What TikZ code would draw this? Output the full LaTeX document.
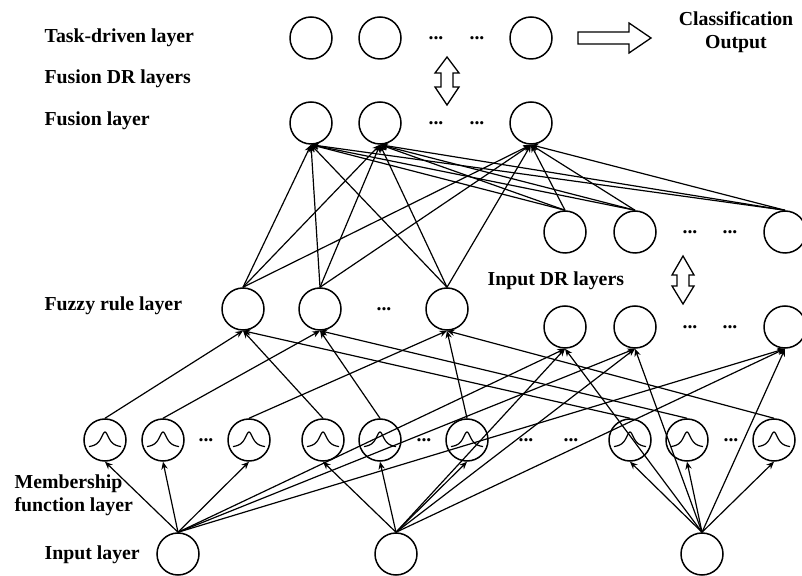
\documentclass[tikz,border=0pt]{standalone}
\usepackage{fontspec}
\setmainfont{Liberation Serif}
\usetikzlibrary{arrows.meta}

\begin{document}
\begin{tikzpicture}[x=0.5pt, y=-0.5pt, line width=0.6pt, >={Stealth[length=3.8pt,width=3.2pt]},
    main/.style = {draw, circle, line width=0.75pt, minimum size=21pt, inner sep=0pt},
    mf/.style = {main, path picture={\draw[line width=0.6pt, shift={(path picture bounding box.center)}] plot[domain=-8:8, samples=41, smooth] ({\x*1pt}, {(8/(1+(\x/2.5)*(\x/2.5))-4)*1pt});}},
    lbl/.style = {font=\bfseries\fontsize{9.9}{11.5}\selectfont, inner sep=0pt, anchor=west},
    dots/.style = {font=\bfseries\fontsize{9.9}{11.5}\selectfont, inner sep=0pt},
    bigarrow/.style = {draw, line width=0.65pt, fill=white}]
                \useasboundingbox (0,0) rectangle (802,576);

                % layer names
                \node[lbl] (ltask) at (44,38) {Task-driven layer};
                \node[lbl] (lfdr) at (44,79) {Fusion DR layers};
                \node[lbl] (lfus) at (44,121) {Fusion layer};
                \node[lbl] (lfuz) at (44,306) {Fuzzy rule layer};
                \node[lbl, align=left] (lmf) at (14,495) {Membership\\function layer};
                \node[lbl] (lin) at (44,555) {Input layer};
                \node[lbl] (lidr) at (487,281) {Input DR layers};
                \node[lbl, anchor=center, align=center] (lout) at (736,32) {Classification\\Output};

                % task-driven layer
                \node[main] (t1) at (311,38) {};
                \node[main] (t2) at (380,38) {};
                \node[dots] (td1) at (436,38) {...};
                \node[dots] (td2) at (477,38) {...};
                \node[main] (t3) at (531,38) {};
                \draw[bigarrow] (578,32) -- (629,32) -- (629,23) -- (651,38) -- (629,53) -- (629,44) -- (578,44) -- cycle;
                \draw[bigarrow] (447,57) -- (459,73) -- (453,73) -- (453,87) -- (459,87) -- (447,105) -- (435,87) -- (441,87) -- (441,73) -- (435,73) -- cycle;

                % fusion layer
                \node[main] (f1) at (311,123) {};
                \node[main] (f2) at (380,123) {};
                \node[dots] (fd1) at (436,123) {...};
                \node[dots] (fd2) at (477,123) {...};
                \node[main] (f3) at (531,123) {};

                % input DR layers
                \node[main] (u1) at (565,232) {};
                \node[main] (u2) at (635,232) {};
                \node[dots] (ud1) at (690,232) {...};
                \node[dots] (ud2) at (730,232) {...};
                \node[main] (u3) at (785,232) {};
                \draw[bigarrow] (683,256) -- (694,275) -- (689,275) -- (689,286) -- (694,286) -- (683,304) -- (672,286) -- (677,286) -- (677,275) -- (672,275) -- cycle;
                \node[main] (l1) at (565,327) {};
                \node[main] (l2) at (635,327) {};
                \node[dots] (ld1) at (690,327) {...};
                \node[dots] (ld2) at (730,327) {...};
                \node[main] (l3) at (785,327) {};

                % fuzzy rule layer
                \node[main] (r1) at (243,309) {};
                \node[main] (r2) at (320,309) {};
                \node[dots] (rd) at (384,309) {...};
                \node[main] (r3) at (447,309) {};

                % membership function layer
                \node[mf] (m1) at (105,440) {};
                \node[mf] (m2) at (163,440) {};
                \node[dots] (md1) at (206,440) {...};
                \node[mf] (m3) at (249,440) {};
                \node[mf] (m4) at (323,440) {};
                \node[mf] (m5) at (380,440) {};
                \node[dots] (md2) at (424,440) {...};
                \node[mf] (m6) at (467,440) {};
                \node[dots] (md3) at (526,440) {...};
                \node[dots] (md4) at (571,440) {...};
                \node[mf] (m7) at (630,440) {};
                \node[mf] (m8) at (687,440) {};
                \node[dots] (md5) at (731,440) {...};
                \node[mf] (m9) at (774,440) {};

                % input layer
                \node[main] (i1) at (178,554) {};
                \node[main] (i2) at (396,554) {};
                \node[main] (i3) at (702,554) {};

                % input -> membership
                \draw[->] (i1.north) -- (m1.south);
                \draw[->] (i1.north) -- (m2.south);
                \draw[->] (i1.north) -- (m3.south);
                \draw[->] (i2.north) -- (m4.south);
                \draw[->] (i2.north) -- (m5.south);
                \draw[->] (i2.north) -- (m6.south);
                \draw[->] (i3.north) -- (m7.south);
                \draw[->] (i3.north) -- (m8.south);
                \draw[->] (i3.north) -- (m9.south);

                % input -> input DR
                \draw[->] (i1.north) -- (l1.south);
                \draw[->] (i1.north) -- (l2.south);
                \draw[->] (i1.north) -- (l3.south);
                \draw[->] (i2.north) -- (l1.south);
                \draw[->] (i2.north) -- (l2.south);
                \draw[->] (i2.north) -- (l3.south);
                \draw[->] (i3.north) -- (l1.south);
                \draw[->] (i3.north) -- (l2.south);
                \draw[->] (i3.north) -- (l3.south);

                % membership -> fuzzy rule
                \draw[->] (m1.north) -- (r1.south);
                \draw[->] (m4.north) -- (r1.south);
                \draw[->] (m7.north) -- (r1.south);
                \draw[->] (m2.north) -- (r2.south);
                \draw[->] (m5.north) -- (r2.south);
                \draw[->] (m8.north) -- (r2.south);
                \draw[->] (m3.north) -- (r3.south);
                \draw[->] (m6.north) -- (r3.south);
                \draw[->] (m9.north) -- (r3.south);

                % fuzzy rule -> fusion
                \draw[->] (r1.north) -- (f1.south);
                \draw[->] (r2.north) -- (f1.south);
                \draw[->] (r3.north) -- (f1.south);
                \draw[->] (r1.north) -- (f2.south);
                \draw[->] (r2.north) -- (f2.south);
                \draw[->] (r3.north) -- (f2.south);
                \draw[->] (r1.north) -- (f3.south);
                \draw[->] (r2.north) -- (f3.south);
                \draw[->] (r3.north) -- (f3.south);

                % input DR -> fusion
                \draw[->] (u1.north) -- (f1.south);
                \draw[->] (u2.north) -- (f1.south);
                \draw[->] (u3.north) -- (f1.south);
                \draw[->] (u1.north) -- (f2.south);
                \draw[->] (u2.north) -- (f2.south);
                \draw[->] (u3.north) -- (f2.south);
                \draw[->] (u1.north) -- (f3.south);
                \draw[->] (u2.north) -- (f3.south);
                \draw[->] (u3.north) -- (f3.south);
\end{tikzpicture}
\end{document}
